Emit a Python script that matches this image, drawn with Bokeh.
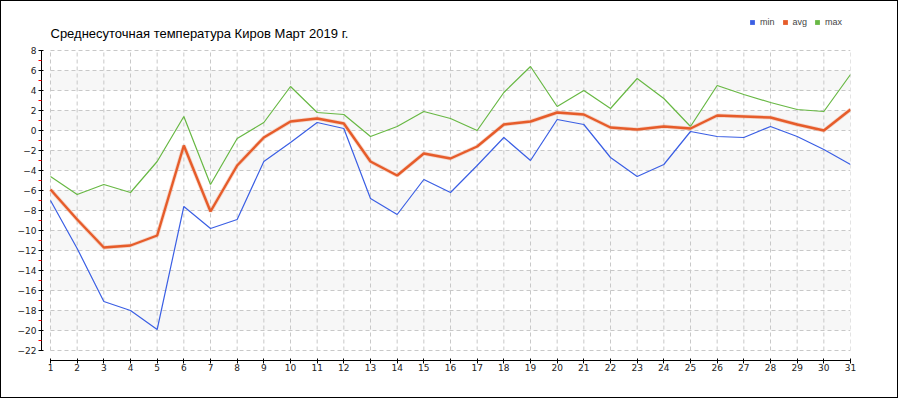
from bokeh.plotting import figure
from bokeh.models import Range1d, FixedTicker, Label, Legend, LegendItem
from bokeh.embed import file_html
from bokeh.resources import INLINE

days = list(range(1, 32))
t_min = [-7.0, -11.8, -17.1, -18.0, -19.9, -7.6, -9.8, -8.9, -3.1, -1.2, 0.8,
         0.2, -6.8, -8.4, -4.9, -6.2, -3.5, -0.7, -3.0, 1.1, 0.6,
         -2.7, -4.6, -3.4, -0.1, -0.6, -0.7, 0.4, -0.6, -1.9, -3.4]
t_avg = [-5.9, -8.9, -11.7, -11.5, -10.5, -1.5, -8.1, -3.5, -0.7, 0.9, 1.2,
         0.7, -3.1, -4.5, -2.3, -2.8, -1.6, 0.6, 0.9, 1.8, 1.6,
         0.3, 0.1, 0.4, 0.2, 1.5, 1.4, 1.3, 0.6, 0.0, 2.1]
t_max = [-4.6, -6.4, -5.4, -6.2, -3.1, 1.4, -5.4, -0.8, 0.8, 4.4, 1.8,
         1.6, -0.6, 0.4, 1.9, 1.2, 0.0, 3.8, 6.4, 2.4, 4.0,
         2.2, 5.2, 3.2, 0.4, 4.5, 3.6, 2.8, 2.1, 1.9, 5.6]

y_major = list(range(-22, 9, 2))
y_minor = list(range(-21, 8, 2))
band_bottom = [-20, -16, -12, -8, -4, 0, 4]
band_top = [-18, -14, -10, -6, -2, 2, 6]
grid_first_day = [1] * len(y_major)
grid_last_day = [31] * len(y_major)
grid_low = [-22] * len(days)
grid_high = [8] * len(days)

title_text = "Среднесуточная температура Киров  Март 2019 г."

C_MIN = "#3b5fe4"
C_AVG = "#e65c2a"
C_MAX = "#68b844"

p = figure(width=898, height=398, output_backend="svg", toolbar_location=None,
           x_range=Range1d(1 - 9 * 30 / 800, 31), y_range=Range1d(-23, 12.9),
           min_border_left=40, min_border_right=49, min_border_top=0,
           min_border_bottom=39)
p.styles = {"border": "1px solid black"}
p.xgrid.visible = False
p.ygrid.visible = False
p.outline_line_color = None
p.background_fill_color = "white"
p.border_fill_color = "white"

# alternating bands
p.quad(left=[1] * len(band_bottom), right=[31] * len(band_bottom),
       bottom=band_bottom, top=band_top, fill_color="#f7f7f7", line_color=None)

# dashed grid
p.segment(x0=grid_first_day, x1=grid_last_day, y0=y_major, y1=y_major,
          line_color="#c8c8c8", line_width=1, line_dash="4 3")
p.segment(x0=days, x1=days, y0=grid_low, y1=grid_high,
          line_color="#c8c8c8", line_width=1, line_dash="4 3")

# series
p.line(days, t_max, line_color=C_MAX, line_width=1.2)
p.line(days, t_min, line_color=C_MIN, line_width=1.2)
p.line(days, t_avg, line_color="#f2b49c", line_width=4, line_alpha=0.5)
p.line(days, t_avg, line_color=C_AVG, line_width=2.4)

# invisible markers (size 0) that only provide square legend swatches
k_min = p.scatter(days, t_min, marker="square", size=0, fill_color=C_MIN, line_color=None)
k_avg = p.scatter(days, t_avg, marker="square", size=0, fill_color=C_AVG, line_color=None)
k_max = p.scatter(days, t_max, marker="square", size=0, fill_color=C_MAX, line_color=None)

# axes
p.xaxis.ticker = FixedTicker(ticks=days)
p.xaxis.bounds = (1, 31)
p.xaxis.axis_line_color = "black"
p.xaxis.major_tick_in = 2
p.xaxis.major_tick_out = 3
p.xaxis.minor_tick_in = 0
p.xaxis.minor_tick_out = 0
p.xaxis.major_label_standoff = 0
p.xaxis.major_label_text_font = "DejaVu Sans"
p.xaxis.major_label_text_font_size = "9px"
p.xaxis.major_label_text_color = "#222222"

p.yaxis.ticker = FixedTicker(ticks=y_major, minor_ticks=y_minor)
p.yaxis.bounds = (-22, 8)
p.yaxis.axis_line_color = "black"
p.yaxis.major_tick_in = 2
p.yaxis.major_tick_out = 3
p.yaxis.minor_tick_in = 0
p.yaxis.minor_tick_out = 3
p.yaxis.minor_tick_line_color = "red"
p.yaxis.major_label_standoff = 2
p.yaxis.major_label_text_font = "DejaVu Sans"
p.yaxis.major_label_text_font_size = "9px"
p.yaxis.major_label_text_color = "#222222"

# title
p.add_layout(Label(x=9, y=327, x_units="screen", y_units="screen", text=title_text,
                   text_font="Liberation Sans", text_font_size="13px",
                   text_baseline="alphabetic", text_color="black"))

# legend
legend = Legend(items=[LegendItem(label="min", renderers=[k_min]),
                       LegendItem(label="avg", renderers=[k_avg]),
                       LegendItem(label="max", renderers=[k_max])],
                orientation="horizontal", location=(705, 332),
                glyph_width=12, glyph_height=12, label_standoff=2, spacing=4,
                label_height=12, label_width=10, padding=0, margin=0,
                border_line_color=None, background_fill_alpha=0,
                label_text_font="Liberation Sans", label_text_font_size="9px",
                label_text_baseline="middle")
p.add_layout(legend)

open("out.html", "w").write(file_html(p, INLINE))
